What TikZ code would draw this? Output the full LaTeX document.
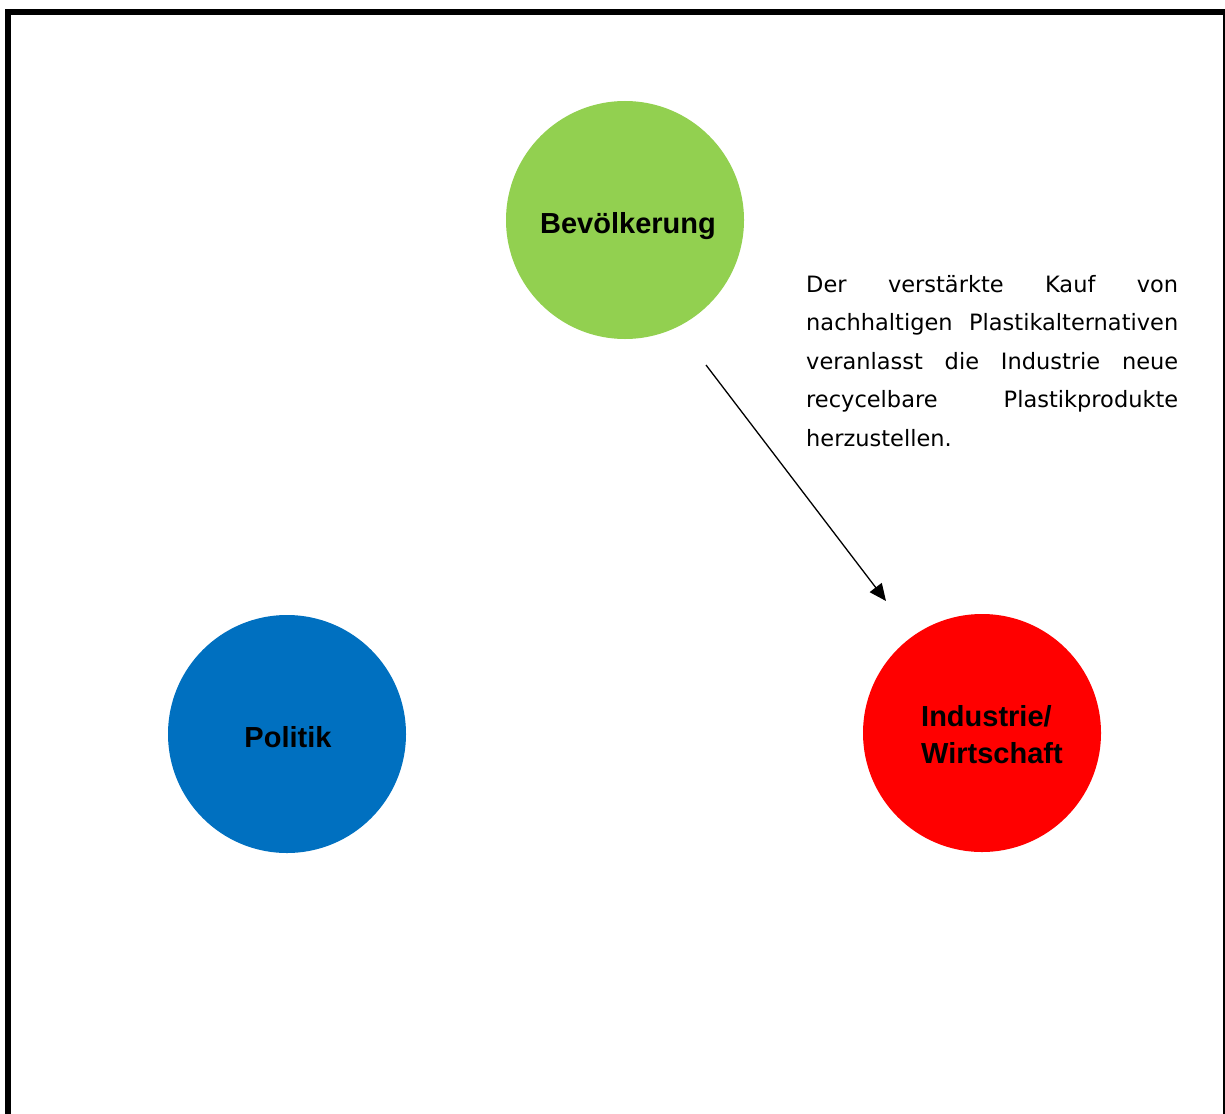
\documentclass[tikz,border=0pt]{standalone}
\usepackage{fontspec}
\setmainfont{Liberation Sans}
\newfontfamily\notefont{DejaVu Sans}
\usetikzlibrary{arrows.meta}
\definecolor{cgreen}{HTML}{92D050}
\definecolor{cblue}{HTML}{0070C0}
\definecolor{cred}{HTML}{FF0000}
\tikzset{
  actor/.style={circle, minimum size=238pt, inner sep=0pt},
  lbl/.style={font=\fontsize{29}{37}\selectfont\bfseries, inner sep=0pt},
  note/.style={font=\notefont\fontsize{22.5}{38.5}\selectfont, inner sep=0pt, anchor=north west, align=left},
  conn/.style={line width=1.3pt, -{Triangle[length=17pt,width=15pt]}}
}
\begin{document}
\begin{tikzpicture}[x=1pt,y=-1pt]
\useasboundingbox (0,0) rectangle (1225,1113);
\draw[line width=6pt] (8,1120) -- (8,12.5) -- (1225,12.5);
\draw[line width=2pt] (1223.5,12.5) -- (1223.5,1120);
\node[actor, fill=cgreen] (bev) at (625,220) {};
\node[actor, fill=cblue] (pol) at (287,734) {};
\node[actor, fill=cred] (ind) at (982,733) {};
\node[lbl] (bevl) at (628,226) {Bevölkerung};
\node[lbl] (poll) at (288,737) {Politik};
\node[lbl, align=left, anchor=west] (indl) at (921,735) {Industrie/\\Wirtschaft};
\node[note] (txt) at (806,275) {%
\hbox to 372pt{Der\hfill verstärkte\hfill Kauf\hfill von}\\
\hbox to 372pt{nachhaltigen\hfill Plastikalternativen}\\
\hbox to 372pt{veranlasst\hfill die\hfill Industrie\hfill neue}\\
\hbox to 372pt{recycelbare\hfill Plastikprodukte}\\
herzustellen.};
\coordinate (a1) at (706,365);
\coordinate (a2) at (886,601);
\draw[conn] (a1) -- (a2);
\end{tikzpicture}
\end{document}
